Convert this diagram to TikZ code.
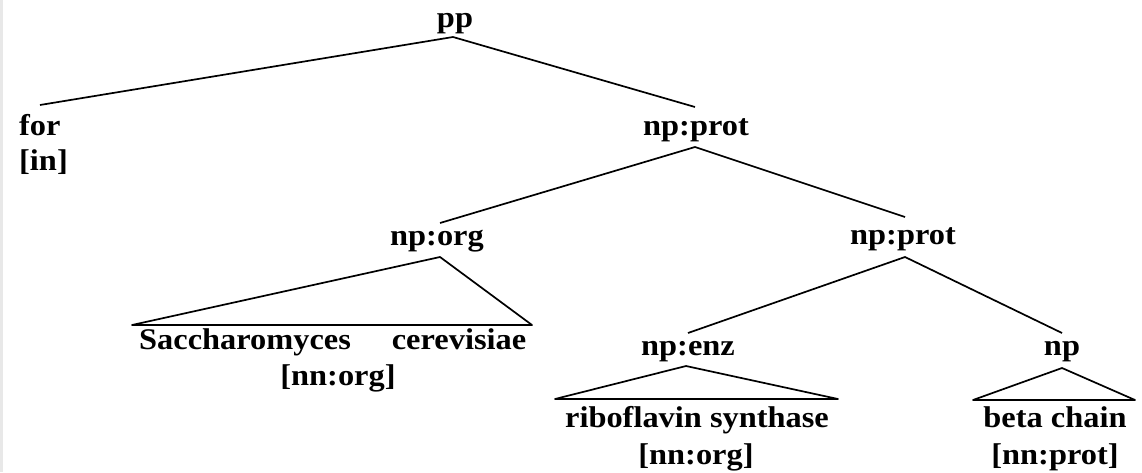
\documentclass[tikz,border=0pt]{standalone}
\usepackage{fontspec}
\setmainfont{Liberation Serif}[FakeStretch=1.08]
\begin{document}
\begin{tikzpicture}[x=1pt,y=-1pt,
  lbl/.style={inner sep=0pt,anchor=base,font=\fontsize{30}{35}\selectfont\bfseries},
  edge/.style={draw=black,line width=1.7pt,line join=round}]
\useasboundingbox (0,0) rectangle (1142,472);
\fill[gray!18] (0,0) rectangle (3,472);
% labels
\node[lbl] (pp) at (455,27) {pp};
\node[lbl,anchor=base west] (for) at (19,135) {for};
\node[lbl,anchor=base west] (in) at (19,170) {[in]};
\node[lbl] (np1) at (696,135) {np:prot};
\node[lbl] (nporg) at (437,245) {np:org};
\node[lbl] (np2) at (903,244) {np:prot};
\node[lbl,anchor=base west] (sacch) at (139,349) {\makebox[387pt][s]{Saccharomyces\hfill cerevisiae}};
\node[lbl] (nnorg1) at (338,385) {[nn:org]};
\node[lbl] (npenz) at (688,355) {np:enz};
\node[lbl] (np) at (1062,355) {np};
\node[lbl] (ribo) at (697,427) {riboflavin synthase};
\node[lbl] (nnorg2) at (696,464) {[nn:org]};
\node[lbl] (beta) at (1055,427) {beta chain};
\node[lbl] (nnprot) at (1055,464) {[nn:prot]};
% connector points
\coordinate (a0) at (453,37);
\coordinate (forTop) at (40,105);
\coordinate (np1Top) at (695,107);
\coordinate (a1) at (695,147);
\coordinate (nporgTop) at (440,223);
\coordinate (np2Top) at (905,217);
\coordinate (a2) at (440,257);
\coordinate (sL) at (132,325);
\coordinate (sR) at (532,325);
\coordinate (a3) at (905,257);
\coordinate (npenzTop) at (688,333);
\coordinate (npTop) at (1062,333);
\coordinate (a4) at (686,366);
\coordinate (rL) at (555,399);
\coordinate (rR) at (838,399);
\coordinate (a5) at (1062,368);
\coordinate (bL) at (973,400);
\coordinate (bR) at (1135,400);
% edges
\draw[edge] (forTop) -- (a0) -- (np1Top);
\draw[edge] (nporgTop) -- (a1) -- (np2Top);
\draw[edge] (sL) -- (a2) -- (sR) -- cycle;
\draw[edge] (npenzTop) -- (a3) -- (npTop);
\draw[edge] (rL) -- (a4) -- (rR) -- cycle;
\draw[edge] (bL) -- (a5) -- (bR) -- cycle;
\end{tikzpicture}
\end{document}
